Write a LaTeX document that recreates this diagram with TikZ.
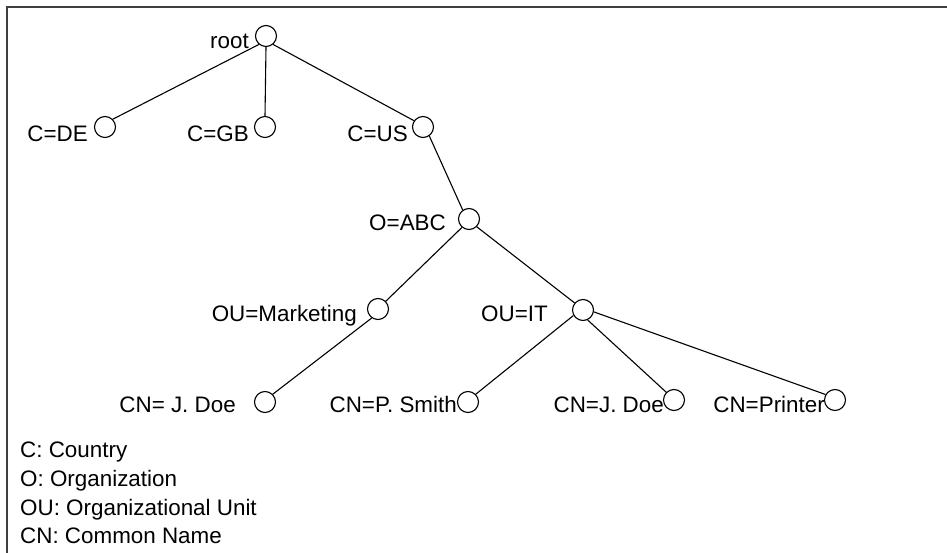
\documentclass[tikz,border=0pt]{standalone}
\usepackage{fontspec}
\setmainfont{Liberation Sans}
\begin{document}
\begin{tikzpicture}[x=1pt,y=-1pt,
  leaf/.style={draw,circle,minimum size=21pt,inner sep=0pt,line width=1.1pt},
  lbl/.style={anchor=base east,inner sep=0pt,font=\fontsize{22.4}{27}\selectfont},
  legend/.style={anchor=base west,inner sep=0pt,font=\fontsize{22.4}{27}\selectfont},
  edge/.style={line width=1.1pt}]
\useasboundingbox (0,0) rectangle (947,553);
\draw[line width=1.6pt,black!75] (7,7) rectangle (980,600);
% circles
\node[leaf] (root) at (266,36) {};
\node[leaf] (de) at (105,127) {};
\node[leaf] (gb) at (265,127) {};
\node[leaf] (us) at (423,127) {};
\node[leaf] (abc) at (469,219) {};
\node[leaf] (mkt) at (378,309) {};
\node[leaf] (it) at (583,310) {};
\node[leaf] (cn1) at (265,402) {};
\node[leaf] (cn2) at (468,402) {};
\node[leaf] (cn3) at (674,400) {};
\node[leaf] (cn4) at (835,400) {};
% labels
\node[lbl] (lroot) at (249,49) {root};
\node[lbl] (lde) at (88,142) {C=DE};
\node[lbl] (lgb) at (249,142) {C=GB};
\node[lbl] (lus) at (408,142) {C=US};
\node[lbl] (labc) at (446,231) {O=ABC};
\node[lbl] (lmkt) at (357,321) {OU=Marketing};
\node[lbl] (lit) at (548,321) {OU=IT};
\node[lbl] (lcn1) at (236,412) {CN= J. Doe};
\node[lbl] (lcn2) at (457,412) {CN=P. Smith};
\node[lbl] (lcn3) at (664,412) {CN=J. Doe};
\node[lbl] (lcn4) at (825,412) {CN=Printer};
% edges
\draw[edge] (root.230) -- (de.45);
\draw[edge] (root.south) -- (gb.north);
\draw[edge] (root.-50) -- (us.145);
\draw[edge] (us.-55) -- (abc.125);
\draw[edge] (abc.230) -- (mkt.45);
\draw[edge] (abc.-45) -- (it.140);
\draw[edge] (mkt.235) -- (cn1.45);
\draw[edge] (it.210) -- (cn2.45);
\draw[edge] (it.-65) -- (cn3.135);
\draw[edge] (it.-10) -- (cn4.150);
% legend
\node[legend] (g1) at (20,457) {C: Country};
\node[legend] (g2) at (20,486.5) {O: Organization};
\node[legend] (g3) at (20,515.5) {OU: Organizational Unit};
\node[legend] (g4) at (20,543) {CN: Common Name};
\end{tikzpicture}
\end{document}
